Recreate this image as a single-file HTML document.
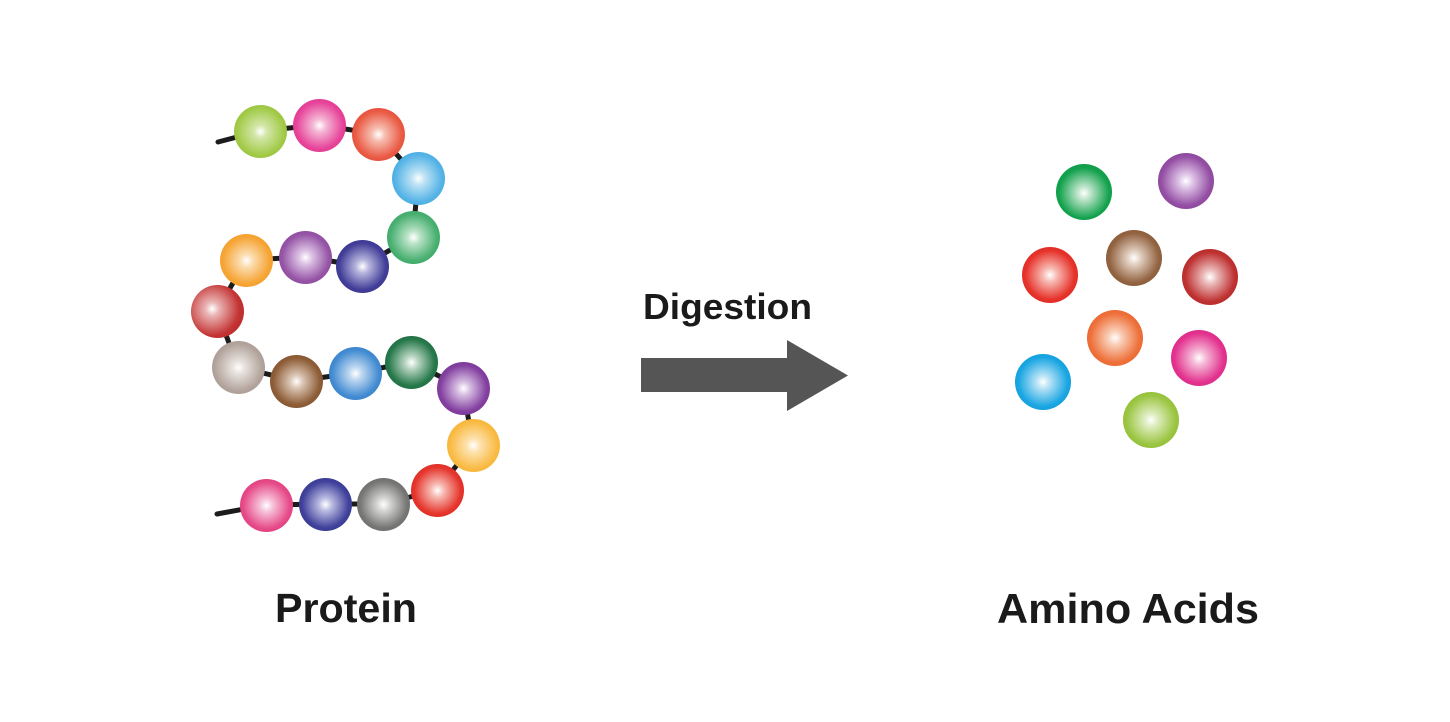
<!DOCTYPE html>
<html>
<head>
<meta charset="utf-8">
<style>
  html,body{margin:0;padding:0;background:#fff;}
  #wrap{position:relative;width:1450px;height:722px;overflow:hidden;background:#fff;}
  svg{position:absolute;left:0;top:0;}
  .b{position:absolute;border-radius:50%;}
</style>
</head>
<body>
<div id="wrap">
<svg width="1450" height="722" viewBox="0 0 1450 722">
  <polyline fill="none" stroke="#1c1c1c" stroke-width="5" stroke-linecap="round" stroke-linejoin="round"
    points="218,142 260,131 319,125 378,134 418,178 413,237 362,266 305,257 246,260 217,311 238,367 296,381 355,373 411,362 463,388 473,445 437,490 383,504 325,504 266,505 217,514"/>
  <polygon fill="#555555" points="641,358 787,358 787,340 848,375.5 787,411 787,392 641,392"/>
  <text x="643" y="319" font-family="Liberation Sans, Arial, sans-serif" font-weight="bold" font-size="36" fill="#1a1a1a" textLength="169" lengthAdjust="spacingAndGlyphs">Digestion</text>
  <text x="275" y="622" font-family="Liberation Sans, Arial, sans-serif" font-weight="bold" font-size="41" fill="#1a1a1a" textLength="142" lengthAdjust="spacingAndGlyphs">Protein</text>
  <text x="997" y="623" font-family="Liberation Sans, Arial, sans-serif" font-weight="bold" font-size="42" fill="#1a1a1a" textLength="262" lengthAdjust="spacingAndGlyphs">Amino Acids</text>
</svg>

<!-- protein chain balls (r=26.5) -->
<div class="b" style="left:233.5px;top:104.5px;width:53px;height:53px;background:radial-gradient(circle at 50% 50%,#ffffff 0%,#d2e6a6 18%,#a3cb4a 62%,#86b226 100%);"></div>
<div class="b" style="left:292.5px;top:98.5px;width:53px;height:53px;background:radial-gradient(circle at 50% 50%,#ffffff 0%,#f4b6d4 18%,#e7449a 62%,#d6267f 100%);"></div>
<div class="b" style="left:351.5px;top:107.5px;width:53px;height:53px;background:radial-gradient(circle at 50% 50%,#ffffff 0%,#f6bdb0 18%,#ea5a44 62%,#da402c 100%);"></div>
<div class="b" style="left:391.5px;top:151.5px;width:53px;height:53px;background:radial-gradient(circle at 50% 50%,#ffffff 0%,#bde2f5 18%,#56b4e6 62%,#36a0da 100%);"></div>
<div class="b" style="left:386.5px;top:210.5px;width:53px;height:53px;background:radial-gradient(circle at 50% 50%,#ffffff 0%,#b9e2c6 18%,#49b071 62%,#2c9c58 100%);"></div>
<div class="b" style="left:335.5px;top:239.5px;width:53px;height:53px;background:radial-gradient(circle at 50% 50%,#ffffff 0%,#b5b4dc 18%,#433f99 62%,#2e2a80 100%);"></div>
<div class="b" style="left:278.5px;top:230.5px;width:53px;height:53px;background:radial-gradient(circle at 50% 50%,#ffffff 0%,#dcc2e4 18%,#9655a6 62%,#7e3d90 100%);"></div>
<div class="b" style="left:219.5px;top:233.5px;width:53px;height:53px;background:radial-gradient(circle at 50% 50%,#ffffff 0%,#fbdcae 18%,#f6a535 62%,#ee901c 100%);"></div>
<div class="b" style="left:190.5px;top:284.5px;width:53px;height:53px;background:radial-gradient(circle at 40% 45%,#ffffff 0%,#eab4b4 16%,#c43434 62%,#ae2020 100%);"></div>
<div class="b" style="left:211.5px;top:340.5px;width:53px;height:53px;background:radial-gradient(circle at 50% 50%,#ffffff 0%,#e6e0dc 18%,#b3a59d 62%,#9c8e86 100%);"></div>
<div class="b" style="left:269.5px;top:354.5px;width:53px;height:53px;background:radial-gradient(circle at 50% 50%,#ffffff 0%,#d9c4b2 18%,#8e5e38 62%,#784a28 100%);"></div>
<div class="b" style="left:328.5px;top:346.5px;width:53px;height:53px;background:radial-gradient(circle at 50% 50%,#ffffff 0%,#bcd6f0 18%,#438cd2 62%,#2c74bc 100%);"></div>
<div class="b" style="left:384.5px;top:335.5px;width:53px;height:53px;background:radial-gradient(circle at 50% 50%,#ffffff 0%,#b6d4c0 18%,#26784a 62%,#176236 100%);"></div>
<div class="b" style="left:436.5px;top:361.5px;width:53px;height:53px;background:radial-gradient(circle at 50% 50%,#ffffff 0%,#d6bde2 18%,#8340a0 62%,#6c2b89 100%);"></div>
<div class="b" style="left:446.5px;top:418.5px;width:53px;height:53px;background:radial-gradient(circle at 50% 50%,#ffffff 0%,#fde2b0 18%,#f9bb44 62%,#f2a628 100%);"></div>
<div class="b" style="left:410.5px;top:463.5px;width:53px;height:53px;background:radial-gradient(circle at 50% 50%,#ffffff 0%,#f6b8b0 18%,#e5352c 62%,#d02018 100%);"></div>
<div class="b" style="left:356.5px;top:477.5px;width:53px;height:53px;background:radial-gradient(circle at 50% 50%,#ffffff 0%,#d4d4d2 18%,#777775 62%,#5c5c5a 100%);"></div>
<div class="b" style="left:298.5px;top:477.5px;width:53px;height:53px;background:radial-gradient(circle at 50% 50%,#ffffff 0%,#b8b9e0 18%,#40419b 62%,#2c2d85 100%);"></div>
<div class="b" style="left:239.5px;top:478.5px;width:53px;height:53px;background:radial-gradient(circle at 50% 50%,#ffffff 0%,#f6c0d8 18%,#e64a88 62%,#d63070 100%);"></div>

<!-- amino acids (r=28) -->
<div class="b" style="left:1056px;top:164px;width:56px;height:56px;background:radial-gradient(circle at 50% 52%,#ffffff 0%,#b8e2c6 18%,#14a24e 62%,#088c3c 100%);"></div>
<div class="b" style="left:1158px;top:153px;width:56px;height:56px;background:radial-gradient(circle at 50% 50%,#ffffff 0%,#dec4e6 18%,#944fa4 62%,#7e3b8f 100%);"></div>
<div class="b" style="left:1106px;top:230px;width:56px;height:56px;background:radial-gradient(circle at 50% 50%,#ffffff 0%,#e0cdbe 18%,#936442 62%,#7c4e2c 100%);"></div>
<div class="b" style="left:1022px;top:247px;width:56px;height:56px;background:radial-gradient(circle at 50% 50%,#ffffff 0%,#f7b9b2 18%,#e6332b 62%,#d21e16 100%);"></div>
<div class="b" style="left:1182px;top:249px;width:56px;height:56px;background:radial-gradient(circle at 50% 50%,#ffffff 0%,#ebbaba 18%,#bf3232 62%,#a61f1f 100%);"></div>
<div class="b" style="left:1087px;top:310px;width:56px;height:56px;background:radial-gradient(circle at 50% 50%,#ffffff 0%,#f9cdb6 18%,#ee703a 62%,#de5a22 100%);"></div>
<div class="b" style="left:1171px;top:330px;width:56px;height:56px;background:radial-gradient(circle at 50% 50%,#ffffff 0%,#f5b8d6 18%,#e3338f 62%,#ce1c78 100%);"></div>
<div class="b" style="left:1015px;top:354px;width:56px;height:56px;background:radial-gradient(circle at 50% 50%,#ffffff 0%,#b3e1f6 18%,#1aa6e2 62%,#0690ce 100%);"></div>
<div class="b" style="left:1123px;top:392px;width:56px;height:56px;background:radial-gradient(circle at 50% 50%,#ffffff 0%,#dcecbc 18%,#9bc542 62%,#84b22a 100%);"></div>
</div>
</body>
</html>
